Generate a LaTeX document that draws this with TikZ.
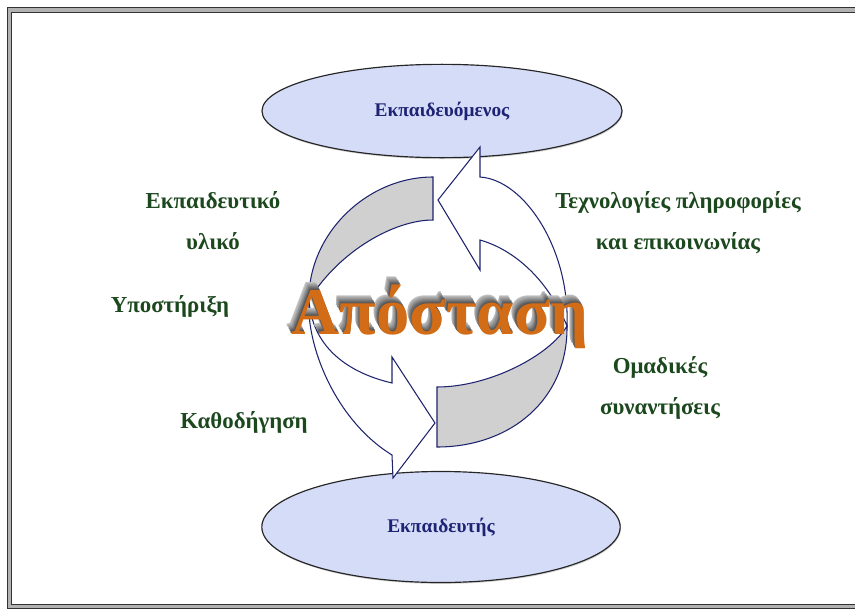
\documentclass[tikz,border=0pt]{standalone}
\usepackage{fontspec}
\setmainfont{Liberation Serif}
\usepackage{xcolor}
\usepackage{tikz}
\usetikzlibrary{shapes.geometric,shadows}

\definecolor{labgreen}{RGB}{28,72,30}
\definecolor{polenavy}{RGB}{30,35,115}
\definecolor{polefill}{RGB}{212,220,248}
\definecolor{bandblue}{RGB}{30,35,110}
\definecolor{backgray}{RGB}{208,208,208}
\definecolor{wordorange}{RGB}{210,108,22}

\begin{document}
\begin{tikzpicture}[
  x=0.03cm, y=-0.03cm,
  lbl/.style={text=labgreen,font=\bfseries\fontsize{19.5}{35}\selectfont,align=center},
  pole/.style={ellipse,draw=black!85,line width=1pt,fill=polefill,text=polenavy,
    font=\bfseries\fontsize{16.5}{20}\selectfont,
    drop shadow={opacity=0.35,shadow xshift=0.6pt,shadow yshift=-1.2pt}},
  band/.style={draw=bandblue,line width=0.9pt,line join=miter},
]
\useasboundingbox (0,0) rectangle (855,609);
\draw[black!80,line width=0.8pt,double=black!30,double distance=3pt] (9.5,10) rectangle (890,606.5);

\node[pole,minimum width=10.8cm,minimum height=2.8cm] (learner) at (442,111) {Εκπαιδευόμενος};
\node[pole,minimum width=10.75cm,minimum height=3.33cm] (trainer) at (441,527) {Εκπαιδευτής};

\draw[band,fill=backgray] (433,177) .. controls (366,177) and (308,235) .. (309,300)
  .. controls (340,250) and (395,220) .. (433,220) -- cycle;
\draw[band,fill=backgray] (437,447) .. controls (510,447) and (568,400) .. (567,326)
  .. controls (550,355) and (490,387) .. (437,387) -- cycle;
\draw[band,fill=white] (309,300) .. controls (306,345) and (335,420) .. (392,455)
  -- (393,478) -- (435,423) -- (392,357) -- (392,383)
  .. controls (345,372) and (312,345) .. (309,300) -- cycle;
\draw[band,fill=white] (567,326) .. controls (570,250) and (525,180) .. (480,177)
  -- (480,147) -- (438,200) -- (480,270) -- (480,240)
  .. controls (515,250) and (548,280) .. (567,326) -- cycle;

\node[font=\bfseries\fontsize{57}{62}\selectfont] (distance) at (440,313) {%
  \foreach \k [evaluate=\k as \sh using {int(72-6*\k)},
               evaluate=\k as \dx using {-0.51*\k},
               evaluate=\k as \dy using {0.85*\k}] in {8,...,1}
    {\rlap{\hspace{\dx pt}\raisebox{\dy pt}{\color{black!\sh}Απόσταση}}}%
  \color{wordorange}Απόσταση};

\node[lbl] (material) at (213,221) {Εκπαιδευτικό\\υλικό};
\node[lbl] (support) at (170,306) {Υποστήριξη};
\node[lbl] (guidance) at (244,422) {Καθοδήγηση};
\node[lbl] (ict) at (678,223) {Τεχνολογίες πληροφορίες\\και επικοινωνίας};
\node[lbl] (meetings) at (660,388) {Ομαδικές\\συναντήσεις};
\end{tikzpicture}
\end{document}
